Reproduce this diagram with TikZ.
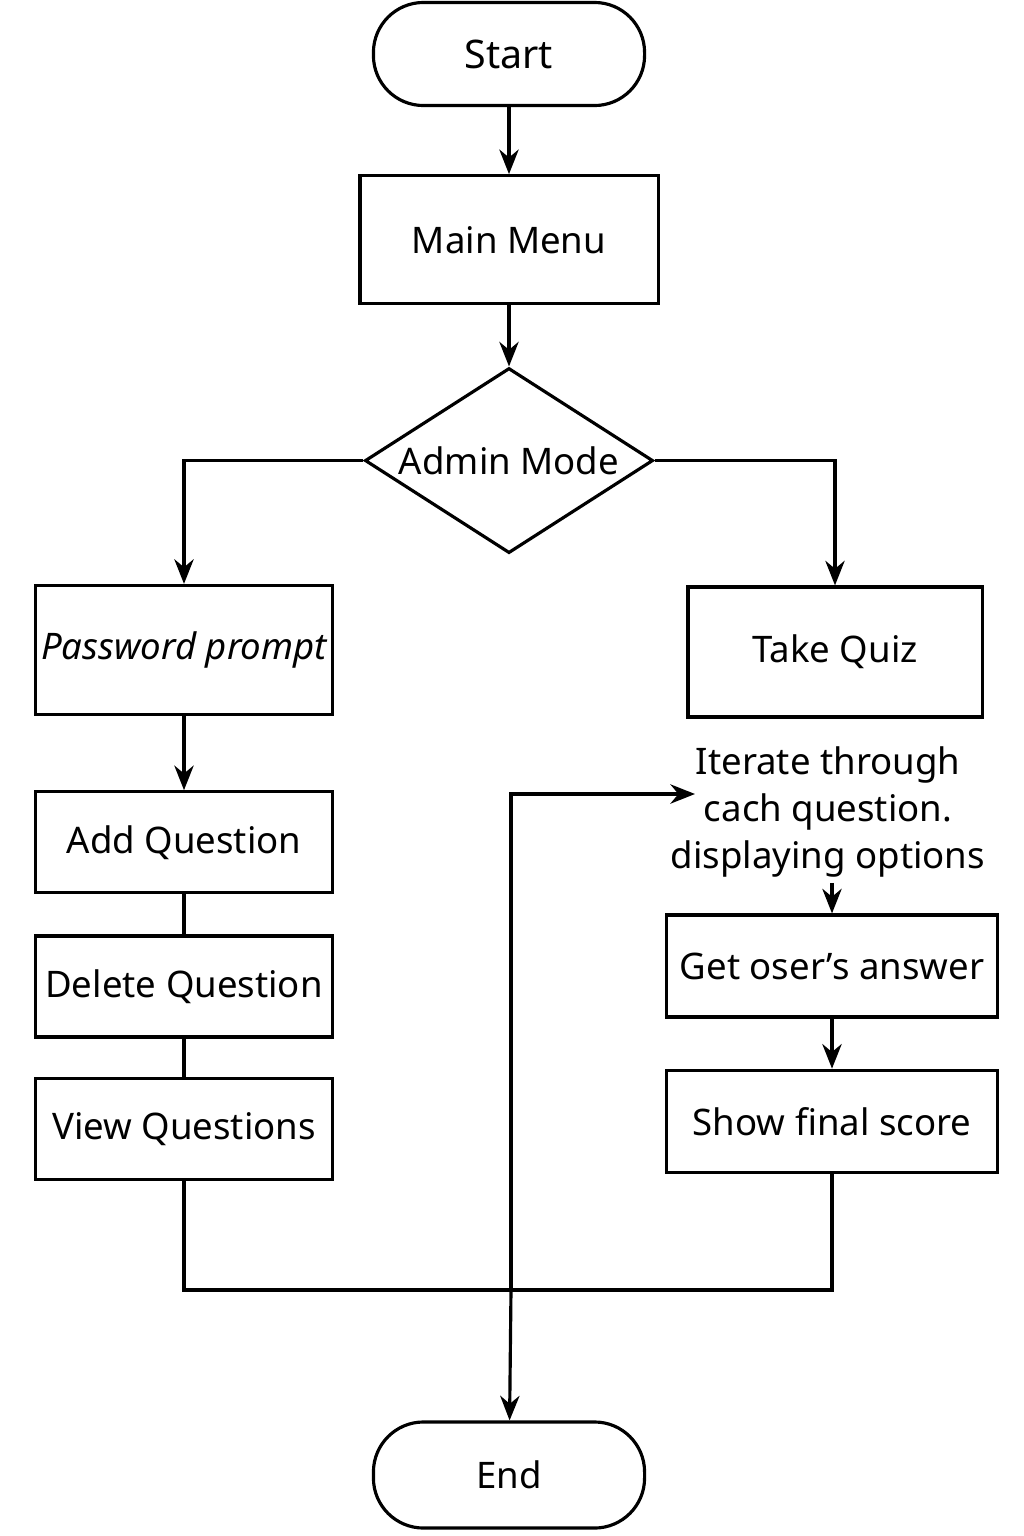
\documentclass[tikz,border=0pt]{standalone}
\usepackage{fontspec}
\setmainfont{Noto Sans}
\usepackage{tikz}
\usetikzlibrary{shapes, shapes.geometric, arrows.meta, positioning}

\begin{document}
\begin{tikzpicture}[
                x=0.01cm, y=-0.01cm,
                line width=0.9pt,
                >={Stealth[length=7pt, width=5.5pt]},
                every node/.style={font=\fontsize{10.4pt}{13.5pt}\selectfont},
                termbox/.style={draw, rounded corners=0.5cm, minimum width=2.71cm, minimum height=1.03cm, align=center},
                procbox/.style={draw, rectangle, inner xsep=1pt, minimum width=2.96cm, minimum height=1.01cm, align=center},
                wideproc/.style={procbox, minimum width=3.3cm, minimum height=1.02cm},
                decision/.style={draw, diamond, aspect=1.55, inner sep=0pt, minimum width=2.88cm, minimum height=1.85cm}
            ]
                \useasboundingbox (0,0) rectangle (1024,1536);

                \node[termbox, font=\fontsize{11.2pt}{13.5pt}\selectfont] (start) at (509,54) {Start};
                \node[procbox, below=0.67cm of start, minimum width=2.98cm, minimum height=1.28cm] (menu) {Main Menu};
                \node[decision, below=0.61cm of menu] (admin) {Admin Mode};

                % admin side
                \node[procbox, minimum height=1.29cm] (password) at (184,650) {\itshape Password prompt};
                \node[procbox, below=0.74cm of password] (addq) {Add Question};
                \node[procbox, below=0.40cm of addq] (deleteq) {Delete Question};
                \node[procbox, below=0.38cm of deleteq] (viewq) {View Questions};

                % quiz side
                \node[procbox, minimum width=2.94cm, minimum height=1.3cm] (quiz) at (835,652) {Take Quiz};
                \node[align=center, inner sep=1pt] (iterate) at (828,812) {Iterate through\\cach question.\\displaying options};
                \node[wideproc] (answer) at (832,966) {Get oser’s answer};
                \node[wideproc, below=0.50cm of answer] (score) {Show final score};

                \node[termbox, minimum height=1.06cm] (end) at (509,1475) {End};

                \coordinate (merge) at (511,1290);
                \coordinate (loop) at (511,794);
                \coordinate (loopend) at (695,794);

                \draw[->] (start) -- (menu);
                \draw[->] (menu) -- (admin);
                \draw[->] (admin.west) -| (password.north);
                \draw[->] (admin.east) -| (quiz.north);
                \draw[->] (password) -- (addq);
                \draw (addq) -- (deleteq);
                \draw (deleteq) -- (viewq);
                \draw[->] (iterate.south -| answer.north) -- (answer);
                \draw[->] (answer) -- (score);
                \draw (viewq.south) |- (merge) -| (score.south);
                \draw[->] (merge) -- (loop) -- (loopend);
                \draw[->] (merge) -- (end);
            \end{tikzpicture}
\end{document}
